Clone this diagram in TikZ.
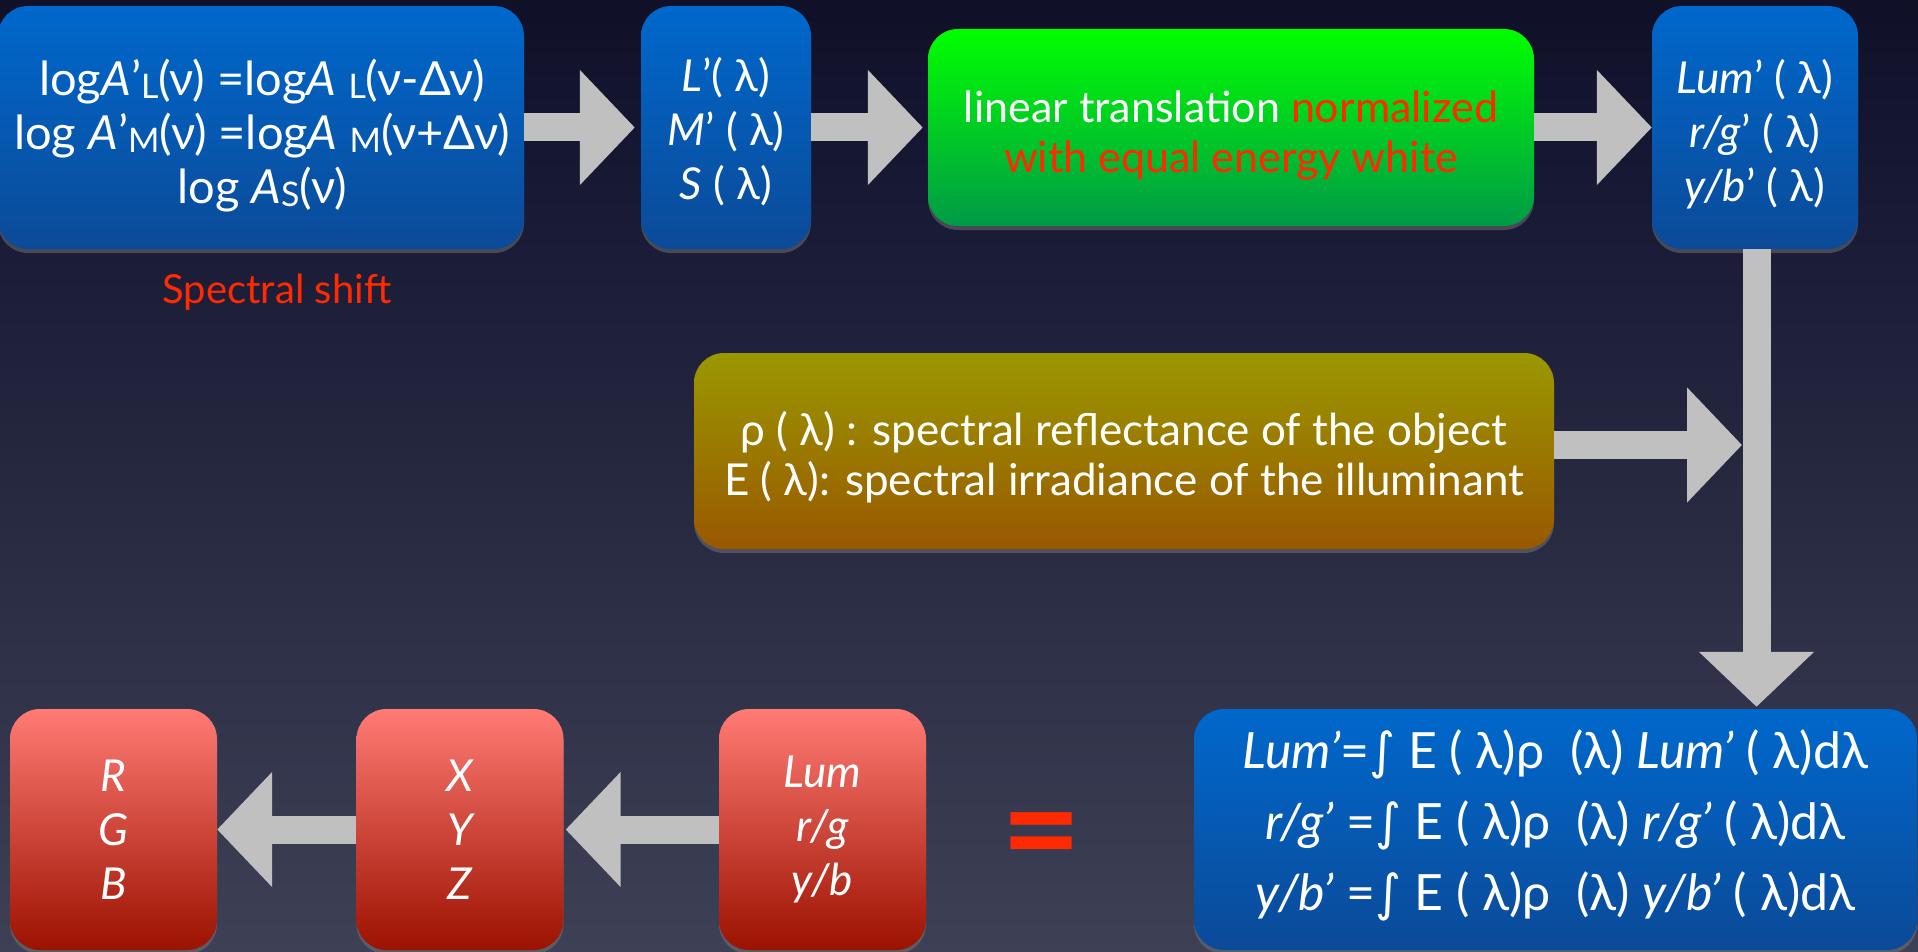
\documentclass[tikz,border=0pt]{standalone}
\usepackage{graphicx}
\usepackage{fontspec}
\setmainfont{Lato}
\newfontfamily\symf{DejaVu Sans}
\usetikzlibrary{arrows.meta,shadows}
\definecolor{bgA}{HTML}{020206}
\definecolor{bgB}{HTML}{080818}
\definecolor{bgC}{HTML}{151632}
\definecolor{bgD}{HTML}{262840}
\definecolor{bgE}{HTML}{3D3F55}
\definecolor{bgF}{HTML}{5A5C70}
\definecolor{bluetop}{HTML}{0068CC}
\definecolor{bluebot}{HTML}{0B4A98}
\definecolor{greentop}{HTML}{00FF00}
\definecolor{greenbot}{HTML}{009A48}
\definecolor{olivetop}{HTML}{9A9800}
\definecolor{olivebot}{HTML}{9A5800}
\definecolor{redtop}{HTML}{FF7B74}
\definecolor{redbot}{HTML}{9C1200}
\definecolor{arrowgray}{HTML}{C0C0C0}
\definecolor{txtred}{HTML}{FF2A00}
\pgfdeclareverticalshading{bgshade}{100bp}{color(0bp)=(bgF); color(26bp)=(bgE); color(50bp)=(bgD); color(68bp)=(bgC); color(85bp)=(bgB); color(100bp)=(bgA)}
\newcommand\lsub[1]{\raisebox{-0.06em}{\scalebox{0.72}{#1}}}
\newcommand\bigstrut{\rule[-17.5pt]{0pt}{70pt}}
\begin{document}
\begin{tikzpicture}[x=1pt,y=-1pt,
  box/.style={rounded corners=30pt, inner sep=0pt,
    drop shadow={opacity=0.45, shadow xshift=0pt, shadow yshift=-4pt}},
  bluebox/.style={box, top color=bluetop, bottom color=bluebot},
  greenbox/.style={box, top color=greentop, bottom color=greenbot},
  olivebox/.style={box, top color=olivetop, bottom color=olivebot},
  redbox/.style={box, top color=redtop, bottom color=redbot, minimum width=207pt, minimum height=241pt},
  boxtext/.style={text=white, align=center, inner sep=0pt},
  redtext/.style={boxtext, font=\fontsize{44}{54}\selectfont\itshape},
  blk/.style={draw=arrowgray, line width=28pt, -{Triangle[length=55pt 0 0, width=112pt 0 0]}},
  threeline/.style={boxtext, font=\fontsize{44}{54}\selectfont}
]
\useasboundingbox (0,0) rectangle (1918,952);
\shade[shading=bgshade] (0,0) rectangle (1918,952);

% top row
\node[bluebox, minimum width=526pt, minimum height=243pt] (shift) at (261,127.5) {};
\node[boxtext, font=\fontsize{47}{54}\selectfont] (shift-t) at (262,136)
  {log\textit{A}’\lsub{L}(ν) =log\textit{A} \lsub{L}(ν-Δν)\\
   log \textit{A}’\lsub{M}(ν) =log\textit{A} \lsub{M}(ν+Δν)\\
   log \textit{A}\lsub{S}(ν)};
\node[text=txtred, font=\fontsize{40}{48}\selectfont] (shiftlbl) at (277,292) {Spectral shift};

\node[bluebox, minimum width=170pt, minimum height=243pt] (lms) at (726,127.5) {};
\node[threeline] (lms-t) at (726,132) {\textit{L}’( λ)\\ \textit{M}’ ( λ)\\ \textit{S} ( λ)};

\node[greenbox, minimum width=606pt, minimum height=197pt] (lin) at (1231,127.5) {};
\node[boxtext, font=\fontsize{43}{50}\selectfont] (lin-t) at (1231,135.5)
  {linear translation \textcolor{txtred}{normalized}\\ \textcolor{txtred}{with equal energy white}};

\node[bluebox, minimum width=206pt, minimum height=243pt] (lump) at (1755,127.5) {};
\node[threeline] (lump-t) at (1755,134.5) {\textit{Lum}’ ( λ)\\ \textit{r/g}’ ( λ)\\ \textit{y/b}’ ( λ)};

% middle
\node[olivebox, minimum width=860pt, minimum height=196pt] (refl) at (1124,451) {};
\node[boxtext, font=\fontsize{44}{50}\selectfont] (refl-t) at (1124,457)
  {ρ ( λ) : spectral reflectance of the object\\ E ( λ): spectral irradiance of the illuminant};

% bottom row
\node[bluebox, minimum width=723pt, minimum height=241pt] (integ) at (1555.5,829.5) {};
\node[boxtext, font=\fontsize{50}{71}\selectfont] (integ-t) at (1555.5,822)
  {\bigstrut\textit{Lum’}={\symf ∫} E ( λ)ρ\ \ (λ) \textit{Lum’} ( λ)dλ\\
   \bigstrut\textit{r/g’} ={\symf ∫} E ( λ)ρ\ \ (λ) \textit{r/g’} ( λ)dλ\\
   \bigstrut\textit{y/b’} ={\symf ∫} E ( λ)ρ\ \ (λ) \textit{y/b’} ( λ)dλ};

\node[text=txtred, font=\fontsize{138}{138}\selectfont\bfseries, inner sep=0pt] (eq) at (1042,845) {=};

\node[redbox] (lum) at (822.5,829.5) {};
\node[redtext] (lum-t) at (822.5,829.5) {Lum\\ r/g\\ y/b};
\node[redbox] (xyz) at (460,829.5) {};
\node[redtext] (xyz-t) at (460,829.5) {X\\ Y\\ Z};
\node[redbox] (rgb) at (113.5,829.5) {};
\node[redtext] (rgb-t) at (113.5,829.5) {R\\ G\\ B};

% connectors
\draw[blk, shorten >=6pt] (shift.east) -- (lms.west);
\draw[blk, shorten >=5pt] (lms.east) -- (lin.west);
\draw[blk] (lin.east) -- (lump.west);
\coordinate (dn) at (1756.5,249);
\draw[blk, shorten >=2pt] (dn) -- (dn |- integ.north);
\coordinate (jn) at (1742,445);
\draw[blk] (refl.east |- jn) -- (jn);
\draw[blk, shorten >=2pt] (lum.west) -- (xyz.east);
\draw[blk] (xyz.west) -- (rgb.east);
\end{tikzpicture}
\end{document}
